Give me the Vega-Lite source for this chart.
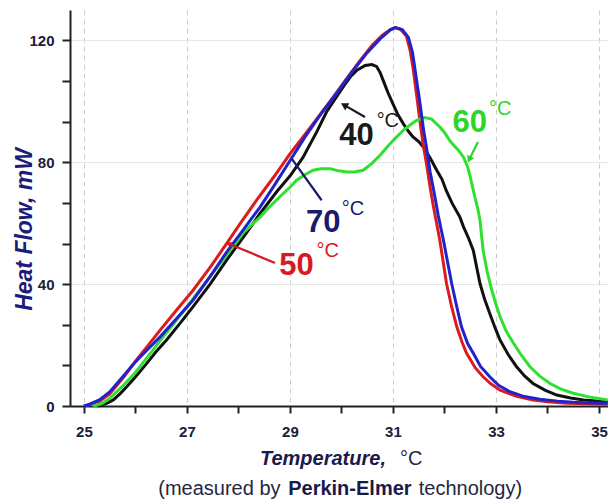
{
  "$schema": "https://vega.github.io/schema/vega-lite/v6.json",
  "width": 538,
  "height": 396,
  "autosize": "none",
  "padding": {"left": 70, "top": 10, "right": 0, "bottom": 96},
  "background": "white",
  "config": {"view": {"stroke": null}},
  "datasets": {
    "curves": [
      {"s":"40","T":25.28,"HF":0},{"s":"40","T":25.44,"HF":0.9},{"s":"40","T":25.57,"HF":2.0},{"s":"40","T":25.7,"HF":4.0},{"s":"40","T":25.83,"HF":6.3},{"s":"40","T":26.0,"HF":9.5},{"s":"40","T":26.22,"HF":14},{"s":"40","T":26.4,"HF":17.8},{"s":"40","T":26.6,"HF":21.6},{"s":"40","T":26.85,"HF":26.8},{"s":"40","T":27.12,"HF":32.6},{"s":"40","T":27.45,"HF":40},{"s":"40","T":27.77,"HF":47.9},{"s":"40","T":28.1,"HF":55.5},{"s":"40","T":28.42,"HF":63.2},{"s":"40","T":28.75,"HF":70.5},{"s":"40","T":29.0,"HF":75.5},{"s":"40","T":29.25,"HF":81.5},{"s":"40","T":29.52,"HF":90.0},{"s":"40","T":29.71,"HF":96.5},{"s":"40","T":29.9,"HF":101.4},{"s":"40","T":30.05,"HF":105.2},{"s":"40","T":30.17,"HF":108},{"s":"40","T":30.3,"HF":110.2},{"s":"40","T":30.46,"HF":111.8},{"s":"40","T":30.59,"HF":112.1},{"s":"40","T":30.68,"HF":111.5},{"s":"40","T":30.75,"HF":109.5},{"s":"40","T":30.81,"HF":106.9},{"s":"40","T":30.9,"HF":103},{"s":"40","T":31.0,"HF":99.2},{"s":"40","T":31.1,"HF":95.5},{"s":"40","T":31.2,"HF":92.7},{"s":"40","T":31.3,"HF":90.2},{"s":"40","T":31.39,"HF":88.3},{"s":"40","T":31.5,"HF":86.8},{"s":"40","T":31.59,"HF":85},{"s":"40","T":31.72,"HF":81.5},{"s":"40","T":31.85,"HF":77.4},{"s":"40","T":31.95,"HF":74.5},{"s":"40","T":32.04,"HF":70.5},{"s":"40","T":32.15,"HF":66.5},{"s":"40","T":32.3,"HF":62},{"s":"40","T":32.37,"HF":58.8},{"s":"40","T":32.47,"HF":55},{"s":"40","T":32.56,"HF":51.1},{"s":"40","T":32.62,"HF":46},{"s":"40","T":32.69,"HF":40.2},{"s":"40","T":32.78,"HF":35},{"s":"40","T":32.88,"HF":30.4},{"s":"40","T":32.98,"HF":25.8},{"s":"40","T":33.08,"HF":21.6},{"s":"40","T":33.24,"HF":16.8},{"s":"40","T":33.4,"HF":12.9},{"s":"40","T":33.56,"HF":9.8},{"s":"40","T":33.72,"HF":7.4},{"s":"40","T":33.95,"HF":5.2},{"s":"40","T":34.18,"HF":3.6},{"s":"40","T":34.45,"HF":2.6},{"s":"40","T":34.7,"HF":2.0},{"s":"40","T":35.0,"HF":1.6},{"s":"40","T":35.17,"HF":1.4},

      {"s":"50","T":25.0,"HF":0},{"s":"50","T":25.05,"HF":0.2},{"s":"50","T":25.3,"HF":1.5},{"s":"50","T":25.5,"HF":4.0},{"s":"50","T":25.75,"HF":9},{"s":"50","T":26.02,"HF":15.1},{"s":"50","T":26.25,"HF":20},{"s":"50","T":26.48,"HF":24.9},{"s":"50","T":26.8,"HF":31.5},{"s":"50","T":27.12,"HF":38},{"s":"50","T":27.45,"HF":45.5},{"s":"50","T":27.77,"HF":53.3},{"s":"50","T":28.05,"HF":60.3},{"s":"50","T":28.35,"HF":67.5},{"s":"50","T":28.7,"HF":75.5},{"s":"50","T":29.0,"HF":82.8},{"s":"50","T":29.4,"HF":91.5},{"s":"50","T":29.84,"HF":101.4},{"s":"50","T":30.1,"HF":107.5},{"s":"50","T":30.36,"HF":113.4},{"s":"50","T":30.6,"HF":118.5},{"s":"50","T":30.8,"HF":121.8},{"s":"50","T":30.95,"HF":123.6},{"s":"50","T":31.04,"HF":124.2},{"s":"50","T":31.15,"HF":123.6},{"s":"50","T":31.26,"HF":121.5},{"s":"50","T":31.33,"HF":117},{"s":"50","T":31.39,"HF":111},{"s":"50","T":31.46,"HF":102},{"s":"50","T":31.52,"HF":94},{"s":"50","T":31.58,"HF":86.5},{"s":"50","T":31.65,"HF":79.6},{"s":"50","T":31.72,"HF":72},{"s":"50","T":31.78,"HF":66},{"s":"50","T":31.91,"HF":54.4},{"s":"50","T":32.04,"HF":40.2},{"s":"50","T":32.14,"HF":32.5},{"s":"50","T":32.24,"HF":26},{"s":"50","T":32.34,"HF":21},{"s":"50","T":32.43,"HF":17.3},{"s":"50","T":32.6,"HF":12.5},{"s":"50","T":32.75,"HF":9.6},{"s":"50","T":32.9,"HF":7.3},{"s":"50","T":33.08,"HF":5.2},{"s":"50","T":33.4,"HF":3.2},{"s":"50","T":33.72,"HF":2.0},{"s":"50","T":34.0,"HF":1.4},{"s":"50","T":34.37,"HF":0.9},{"s":"50","T":34.8,"HF":0.7},{"s":"50","T":35.17,"HF":0.6},

      {"s":"60","T":25.18,"HF":0},{"s":"60","T":25.35,"HF":0.8},{"s":"60","T":25.5,"HF":2.5},{"s":"60","T":25.75,"HF":6.5},{"s":"60","T":26.0,"HF":11},{"s":"60","T":26.3,"HF":17.5},{"s":"60","T":26.6,"HF":24},{"s":"60","T":27.0,"HF":32.5},{"s":"60","T":27.4,"HF":41.5},{"s":"60","T":27.77,"HF":49.5},{"s":"60","T":28.1,"HF":57},{"s":"60","T":28.42,"HF":62},{"s":"60","T":28.6,"HF":65.3},{"s":"60","T":28.8,"HF":68.6},{"s":"60","T":29.0,"HF":71.8},{"s":"60","T":29.13,"HF":74.1},{"s":"60","T":29.3,"HF":76},{"s":"60","T":29.45,"HF":77.4},{"s":"60","T":29.6,"HF":77.9},{"s":"60","T":29.78,"HF":77.9},{"s":"60","T":29.95,"HF":77.2},{"s":"60","T":30.1,"HF":76.8},{"s":"60","T":30.25,"HF":76.8},{"s":"60","T":30.42,"HF":77.4},{"s":"60","T":30.58,"HF":79.5},{"s":"60","T":30.75,"HF":82.3},{"s":"60","T":30.9,"HF":85.3},{"s":"60","T":31.07,"HF":88.3},{"s":"60","T":31.2,"HF":90.5},{"s":"60","T":31.35,"HF":92.5},{"s":"60","T":31.46,"HF":93.8},{"s":"60","T":31.62,"HF":94.7},{"s":"60","T":31.75,"HF":94.2},{"s":"60","T":31.91,"HF":91.6},{"s":"60","T":32.0,"HF":89.8},{"s":"60","T":32.1,"HF":87.2},{"s":"60","T":32.17,"HF":85.8},{"s":"60","T":32.27,"HF":84},{"s":"60","T":32.37,"HF":81.7},{"s":"60","T":32.45,"HF":78.5},{"s":"60","T":32.5,"HF":75.2},{"s":"60","T":32.55,"HF":71.5},{"s":"60","T":32.59,"HF":68.6},{"s":"60","T":32.65,"HF":64.5},{"s":"60","T":32.69,"HF":61},{"s":"60","T":32.75,"HF":51.1},{"s":"60","T":32.83,"HF":44},{"s":"60","T":32.92,"HF":38},{"s":"60","T":33.0,"HF":33.3},{"s":"60","T":33.08,"HF":29.3},{"s":"60","T":33.2,"HF":24.5},{"s":"60","T":33.34,"HF":20.6},{"s":"60","T":33.5,"HF":16.5},{"s":"60","T":33.66,"HF":12.9},{"s":"60","T":33.85,"HF":9.8},{"s":"60","T":34.05,"HF":7.4},{"s":"60","T":34.25,"HF":5.6},{"s":"60","T":34.5,"HF":4.2},{"s":"60","T":34.8,"HF":3.0},{"s":"60","T":35.17,"HF":2.0},

      {"s":"70","T":25.0,"HF":0},{"s":"70","T":25.1,"HF":0.5},{"s":"70","T":25.3,"HF":2.0},{"s":"70","T":25.5,"HF":4.6},{"s":"70","T":25.75,"HF":9.5},{"s":"70","T":26.0,"HF":14.5},{"s":"70","T":26.25,"HF":18.8},{"s":"70","T":26.48,"HF":22.7},{"s":"70","T":26.8,"HF":28.7},{"s":"70","T":27.12,"HF":34.8},{"s":"70","T":27.45,"HF":42.5},{"s":"70","T":27.77,"HF":50.5},{"s":"70","T":28.1,"HF":58},{"s":"70","T":28.42,"HF":65.3},{"s":"70","T":28.7,"HF":72.5},{"s":"70","T":29.0,"HF":80.5},{"s":"70","T":29.3,"HF":88.5},{"s":"70","T":29.6,"HF":95.8},{"s":"70","T":29.9,"HF":102.5},{"s":"70","T":30.2,"HF":109.5},{"s":"70","T":30.5,"HF":116},{"s":"70","T":30.75,"HF":120.5},{"s":"70","T":30.95,"HF":123.5},{"s":"70","T":31.05,"HF":124.2},{"s":"70","T":31.18,"HF":123.6},{"s":"70","T":31.3,"HF":121},{"s":"70","T":31.38,"HF":116},{"s":"70","T":31.45,"HF":108},{"s":"70","T":31.52,"HF":100},{"s":"70","T":31.6,"HF":90},{"s":"70","T":31.65,"HF":85},{"s":"70","T":31.72,"HF":77},{"s":"70","T":31.8,"HF":70},{"s":"70","T":31.88,"HF":62.5},{"s":"70","T":31.98,"HF":54.4},{"s":"70","T":32.14,"HF":40.2},{"s":"70","T":32.24,"HF":32.5},{"s":"70","T":32.33,"HF":26},{"s":"70","T":32.45,"HF":20.5},{"s":"70","T":32.56,"HF":17.3},{"s":"70","T":32.7,"HF":13},{"s":"70","T":32.88,"HF":9.6},{"s":"70","T":33.05,"HF":6.8},{"s":"70","T":33.27,"HF":4.7},{"s":"70","T":33.55,"HF":3.1},{"s":"70","T":33.85,"HF":2.2},{"s":"70","T":34.2,"HF":1.6},{"s":"70","T":34.5,"HF":1.2},{"s":"70","T":34.85,"HF":1.0},{"s":"70","T":35.17,"HF":0.9}
    ],
    "pointers": [
      {"p":"40","T":30.456,"HF":94.85},{"p":"40","T":30.072,"HF":98.6},
      {"p":"60","T":32.65,"HF":86.66},{"p":"60","T":32.491,"HF":81.28},
      {"p":"70","T":29.615,"HF":67.54},{"p":"70","T":29.033,"HF":81.2},
      {"p":"50","T":28.709,"HF":46.98},{"p":"50","T":27.825,"HF":53.18}
    ],
    "heads": [
      {"p":"40","T":30.072,"HF":98.6},
      {"p":"60","T":32.491,"HF":81.28},
      {"p":"50","T":27.825,"HF":53.18}
    ],
    "nums": [
      {"p":"40","T":30.291,"HF":85.57,"text":"40"},
      {"p":"60","T":32.491,"HF":89.93,"text":"60"},
      {"p":"70","T":29.647,"HF":57.15,"text":"70"},
      {"p":"50","T":29.126,"HF":42.95,"text":"50"}
    ],
    "degs": [
      {"p":"40","T":30.683,"HF":91.57,"text":"°C"},
      {"p":"60","T":32.864,"HF":95.41,"text":"°C"},
      {"p":"70","T":30.004,"HF":62.62,"text":"°C"},
      {"p":"50","T":29.518,"HF":48.85,"text":"°C"}
    ],
    "titles": [
      {"part":"bi","T":30.864,"HF":-19.34,"text":"Temperature,"},
      {"part":"r","T":31.136,"HF":-19.34,"text":"°C"},
      {"part":"r","T":26.443,"HF":-29.18,"text":"(measured by"},
      {"part":"b","T":28.966,"HF":-29.18,"text":"Perkin-Elmer"},
      {"part":"r","T":31.5,"HF":-29.18,"text":"technology)"}
    ]
  },
  "encoding": {
    "x": {"field": "T", "type": "quantitative",
      "scale": {"domain": [24.73, 35.175], "nice": false, "zero": false},
      "axis": {
        "title": null,
        "values": [25,26,27,28,29,30,31,32,33,34,35],
        "labelExpr": "datum.value % 2 == 1 ? datum.label : ''",
        "grid": true, "gridColor": "#cccccc", "gridDash": [5,4], "gridWidth": 1,
        "gridOpacity": {"condition": {"test": "datum.value % 2 == 1", "value": 1}, "value": 0},
        "domainColor": "#222222", "domainWidth": 2,
        "tickColor": "#222222", "tickWidth": 2, "tickSize": 7,
        "labelFont": "Liberation Sans", "labelFontWeight": "bold", "labelFontSize": 15,
        "labelColor": "#20203a", "labelPadding": 11, "labelFlush": false
      }
    },
    "y": {"field": "HF", "type": "quantitative",
      "scale": {"domain": [0, 130], "nice": false, "zero": true},
      "axis": {
        "title": "Heat Flow, mW",
        "titleFont": "Liberation Sans", "titleFontSize": 23, "titleFontWeight": "bold", "titleFontStyle": "italic",
        "titleColor": "#1c1c7a", "titleX": -39, "titleY": 219, "titleAngle": -90, "titleAlign": "center", "titleBaseline": "alphabetic",
        "values": [0, 13.3333, 26.6667, 40, 53.3333, 66.6667, 80, 93.3333, 106.6667, 120],
        "labelExpr": "datum.value % 40 == 0 ? datum.label : ''",
        "grid": true, "gridColor": "#e6e6e6", "gridWidth": 1,
        "gridOpacity": {"condition": {"test": "datum.value % 40 == 0 && datum.value > 0", "value": 1}, "value": 0},
        "domainColor": "#222222", "domainWidth": 2,
        "tickColor": "#222222", "tickWidth": 2, "tickSize": 8,
        "labelFont": "Liberation Sans", "labelFontWeight": "bold", "labelFontSize": 15,
        "labelColor": "#20203a", "labelPadding": 8
      }
    }
  },
  "layer": [
    {"data": {"name": "curves"}, "transform": [{"filter": "datum.s == '40'"}],
     "mark": {"type": "line", "color": "#111111", "strokeWidth": 3}},
    {"data": {"name": "curves"}, "transform": [{"filter": "datum.s == '50'"}],
     "mark": {"type": "line", "color": "#dc1c1c", "strokeWidth": 3}},
    {"data": {"name": "curves"}, "transform": [{"filter": "datum.s == '60'"}],
     "mark": {"type": "line", "color": "#30e030", "strokeWidth": 3}},
    {"data": {"name": "curves"}, "transform": [{"filter": "datum.s == '70'"}],
     "mark": {"type": "line", "color": "#2222cc", "strokeWidth": 3}},
    {"data": {"name": "pointers"},
     "mark": {"type": "line", "strokeWidth": 2.2},
     "encoding": {
       "detail": {"field": "p"},
       "color": {"field": "p", "type": "nominal", "legend": null,
         "scale": {"domain": ["40","50","60","70"], "range": ["#1a1a1a","#d61a1f","#2bd62b","#1a1a6e"]}}
     }},
    {"data": {"name": "heads"}, "transform": [{"filter": "datum.p == '40'"}],
     "mark": {"type": "point", "shape": "triangle", "filled": true, "size": 70, "angle": 300, "color": "#1a1a1a", "opacity": 1}},
    {"data": {"name": "heads"}, "transform": [{"filter": "datum.p == '60'"}],
     "mark": {"type": "point", "shape": "triangle", "filled": true, "size": 60, "angle": 207, "color": "#2bd62b", "opacity": 1}},
    {"data": {"name": "heads"}, "transform": [{"filter": "datum.p == '50'"}],
     "mark": {"type": "point", "shape": "triangle", "filled": true, "size": 35, "angle": 292, "color": "#d61a1f", "opacity": 1}},
    {"data": {"name": "nums"},
     "mark": {"type": "text", "font": "Liberation Sans", "fontWeight": "bold", "fontSize": 31, "align": "center", "baseline": "alphabetic"},
     "encoding": {
       "text": {"field": "text"},
       "color": {"field": "p", "type": "nominal", "legend": null}
     }},
    {"data": {"name": "degs"},
     "mark": {"type": "text", "font": "Liberation Sans", "fontSize": 20, "align": "left", "baseline": "alphabetic"},
     "encoding": {
       "text": {"field": "text"},
       "color": {"field": "p", "type": "nominal", "legend": null}
     }},
    {"data": {"name": "titles"}, "transform": [{"filter": "datum.part == 'bi'"}],
     "mark": {"type": "text", "font": "Liberation Sans", "fontSize": 20, "fontWeight": "bold", "fontStyle": "italic", "align": "right", "baseline": "alphabetic", "color": "#1a1a4a"},
     "encoding": {"text": {"field": "text"}}},
    {"data": {"name": "titles"}, "transform": [{"filter": "datum.part == 'r'"}],
     "mark": {"type": "text", "font": "Liberation Sans", "fontSize": 20, "align": "left", "baseline": "alphabetic", "color": "#262640"},
     "encoding": {"text": {"field": "text"}}},
    {"data": {"name": "titles"}, "transform": [{"filter": "datum.part == 'b'"}],
     "mark": {"type": "text", "font": "Liberation Sans", "fontSize": 20, "fontWeight": "bold", "align": "left", "baseline": "alphabetic", "color": "#1a1a4a"},
     "encoding": {"text": {"field": "text"}}}
  ]
}
